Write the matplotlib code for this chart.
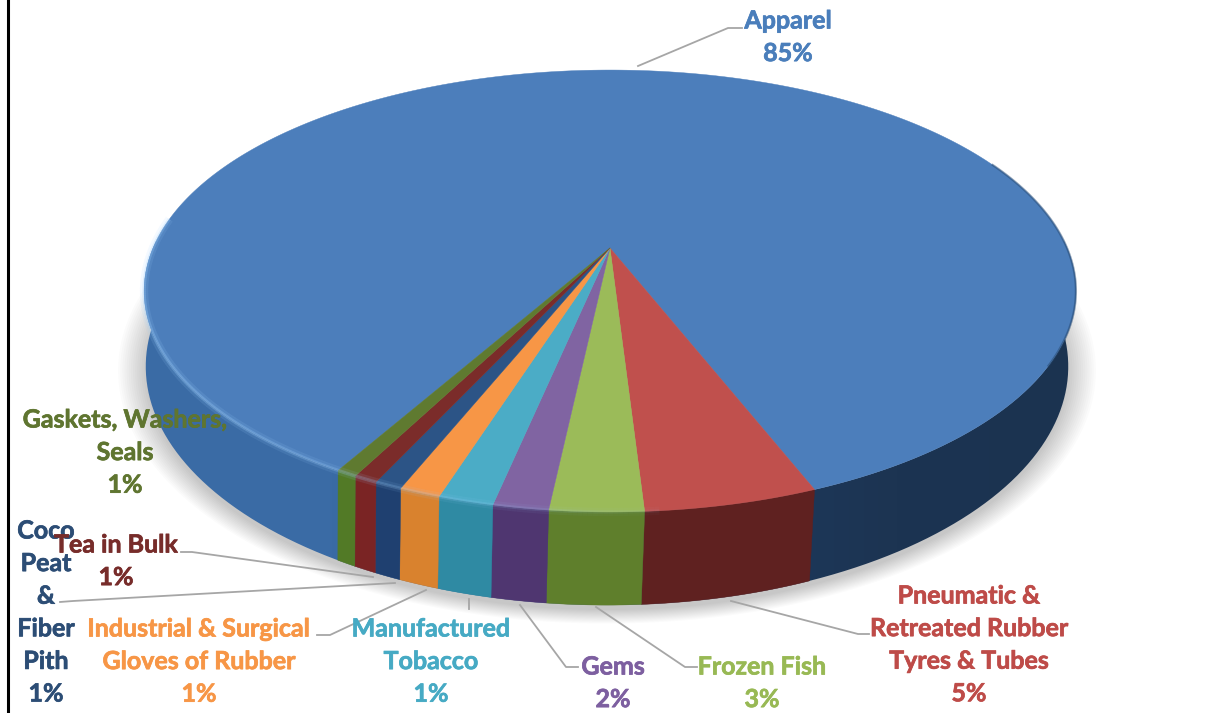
import numpy as np
import matplotlib
matplotlib.use("Agg")
import matplotlib.pyplot as plt
import matplotlib.patheffects as pe
from matplotlib.patches import PathPatch
from matplotlib.path import Path
from matplotlib.collections import LineCollection

# ---- data ----
slice_values = [85.8, 5.0, 2.7, 1.6, 1.6, 1.2, 0.8, 0.7, 0.6]
slice_pct = ["85%", "5%", "3%", "2%", "1%", "1%", "1%", "1%", "1%"]
slice_names = ["Apparel", "Pneumatic &\nRetreated Rubber\nTyres & Tubes", "Frozen Fish", "Gems",
               "Manufactured\nTobacco", "Industrial & Surgical\nGloves of Rubber",
               "Coco\nPeat\n&\nFiber\nPith", "Tea in Bulk", "Gaskets, Washers,\nSeals"]
top_colors = ["#4c7ebb", "#c0504d", "#9bbb59", "#8064a2", "#4bacc6", "#f79646", "#2c5486", "#7b2c2a", "#5f7a30"]
side_colors = ["#2f5a8f", "#5f2120", "#5f7f2c", "#4f3670", "#2f8aa3", "#d9822e", "#1f4070", "#7a2424", "#527a26"]
text_colors = ["#4a7ebb", "#be4b48", "#98b954", "#7d5fa0", "#46aac4", "#f79646", "#2c4d75", "#772c2a", "#5f7530"]

# label placement: centre x, first-line y; leader elbows
label_pos = [(788, 21), (969, 596), (762, 667), (613, 667), (431, 629), (199, 629), (46, 531), (116, 545), (125, 420)]
leaders = [[(638, 66), (728, 28), (742, 28)],
           [(731, 601), (858, 634), (869, 634)],
           [(596, 607), (685, 667), (697, 667)],
           [(520, 605), (566, 667), (578, 667)],
           [(469, 599), (469, 609)],
           [(426, 590), (330, 635), (317, 635)],
           [(395, 583), (73, 601), (60, 602)],
           [(373, 577), (192, 552), (181, 552)],
           []]
LINE_H = 32.6

# ---- projection of the tilted disc ----
AX, AY = 610.0, 248.0
A, B, K = 457.0, 212.6, 0.1946
SX_BOT, SY_BOT, BX, BY = 0.99, 1.08, 607.0, 320.0
PNEUMATIC_START_DEG = -68.5


def rim(phi):
    c, s = np.cos(phi), np.sin(phi)
    w = 1 + K * s
    return AX + A * c / w, AY - B * s / w


def bot(phi):
    x, y = rim(phi)
    return BX + SX_BOT * (x - AX), BY + SY_BOT * (y - AY)


fig = plt.figure(figsize=(12.06, 7.13), dpi=100, facecolor="white")
ax = fig.add_axes([0, 0, 1, 1])
ax.set_xlim(0, 1206)
ax.set_ylim(713, 0)
ax.axis("off")

# slices run clockwise; Apparel ends where Pneumatic starts
total = sum(slice_values)
cum = np.cumsum([0] + slice_values) / total
phi0 = np.deg2rad(PNEUMATIC_START_DEG) + 2 * np.pi * slice_values[0] / total
bounds = phi0 - 2 * np.pi * cum

# soft shadow
t = np.linspace(0, 2 * np.pi, 400)
for grow in np.linspace(1.06, 1.0, 14):
    bx, by = bot(t)
    cx0, cy0 = BX, BY + 60
    ax.fill(cx0 + (bx - cx0) * grow, cy0 + (by - cy0) * grow + 5, color="black", alpha=0.014, lw=0, zorder=1)

# side wall
front = np.linspace(np.deg2rad(-182), np.deg2rad(2), 400)
rx, ry = rim(front)
bx, by = bot(front)
wall = np.vstack([np.c_[rx, ry], np.c_[bx[::-1], by[::-1]]])
grad = np.linspace(0, 1, 256).reshape(1, -1)
cm = matplotlib.colors.LinearSegmentedColormap.from_list(
    "wall", ["#3a6ca6", "#3a6ba5", "#315c92", "#1e3a5e", "#1c3452", "#1b3350"])
im = ax.imshow(grad, extent=(140, 1085, 713, 0), cmap=cm, aspect="auto", zorder=2)
patch = PathPatch(Path(wall), fc="none", ec="none", transform=ax.transData)
ax.add_patch(patch)
im.set_clip_path(patch)
ax.set_xlim(0, 1206)
ax.set_ylim(713, 0)

# side pieces of small slices
for i in range(1, len(slice_values)):
    p = np.linspace(bounds[i], bounds[i + 1], 30)
    x1, y1 = rim(p)
    x2, y2 = bot(p)
    ax.fill(np.r_[x1, x2[::-1]], np.r_[y1, y2[::-1]], color=side_colors[i], lw=0.3, zorder=3)

# top faces
for i in range(len(slice_values)):
    p = np.linspace(bounds[i], bounds[i + 1], 500 if i == 0 else 40)
    x1, y1 = rim(p)
    ax.fill(np.r_[AX, x1], np.r_[AY, y1], color=top_colors[i], lw=0.3, zorder=4)

# lit bevel along the front rim
p = np.linspace(np.deg2rad(-188), np.deg2rad(-85), 200)
x1, y1 = rim(p)
pts = np.c_[x1, y1]
segs = np.stack([pts[:-1], pts[1:]], axis=1)
fade = np.sin(np.linspace(0.25, 1.0, len(segs)) * np.pi) * 0.5 + 0.1
for lw, a in [(6, 0.22), (2.5, 0.5)]:
    cols = np.c_[np.tile([0.62, 0.82, 1.0], (len(segs), 1)), fade * a]
    ax.add_collection(LineCollection(segs, colors=cols, linewidths=lw, zorder=5, capstyle="butt"))
# dark edge on the right
p = np.linspace(np.deg2rad(-30), np.deg2rad(25), 100)
x1, y1 = rim(p)
ax.plot(x1, y1, color="#24476f", lw=1.6, alpha=0.5, zorder=5)

# leaders
for line in leaders:
    if line:
        xs, ys = zip(*line)
        ax.plot(xs, ys, color="#a6a6a6", lw=1.3, zorder=6, solid_joinstyle="round")

# frame line
ax.axvline(8, color="black", lw=2.2, zorder=7)

# labels
for name, pct, col, (x, y) in zip(slice_names, slice_pct, text_colors, label_pos):
    for j, line in enumerate(name.split("\n") + [pct]):
        ax.text(x, y + j * LINE_H, line, color=col, ha="center", va="center",
                fontfamily="Lato", fontweight="bold", fontsize=18, zorder=8,
                path_effects=[pe.withStroke(linewidth=0.5, foreground=col)])

fig.savefig("out.png", dpi=100)
